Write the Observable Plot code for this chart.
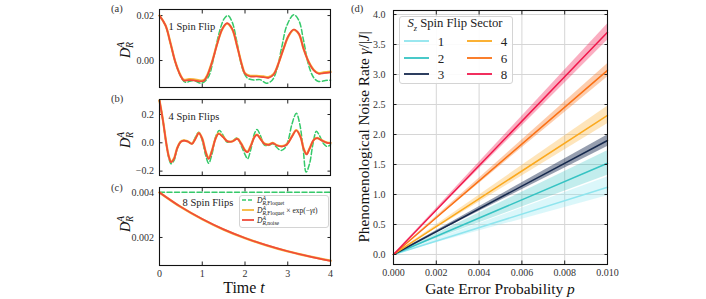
<!DOCTYPE html>
<html><head><meta charset="utf-8">
<script src="https://cdn.jsdelivr.net/npm/d3@7"></script>
<script src="https://cdn.jsdelivr.net/npm/@observablehq/plot@0.6"></script>
<style>
html,body{margin:0;padding:0;background:#fff;}
#root{position:relative;width:706px;height:299px;overflow:hidden;font-family:"Liberation Serif",serif;color:#111;}
#root > svg{position:absolute;overflow:visible;}
.t{position:absolute;white-space:nowrap;line-height:1;}
.c{transform:translate(-50%,-50%);}
.rot{transform:translate(-50%,-50%) rotate(-90deg);}
.ss{display:inline-block;vertical-align:-0.3em;font-size:0.7em;line-height:0.9;font-style:italic;}
.ss>span{display:block;}
.box{position:absolute;background:rgba(255,255,255,0.9);border:1px solid #d4d4d4;border-radius:3px;}
</style></head><body><div id="root"></div>
<script>
// ---------- Panel (a): 1 spin flip ----------
const tA_floq = [0,0.14,0.26,0.37,0.49,0.6,0.8,0.96,1.04,1.16,1.27,1.39,1.51,1.6,1.7,1.82,1.93,2.05,2.2,2.35,2.5,2.63,2.74,2.86,2.98,3.14,3.26,3.37,3.49,3.61,3.72,3.88,4.0];
const dA_floq = [0.02,0.0156,0.0074,-0.0007,-0.0068,-0.0096,-0.0089,-0.0101,-0.0096,-0.0067,0.0015,0.0119,0.0185,0.02,0.0171,0.0074,-0.003,-0.0077,-0.0087,-0.0085,-0.0101,-0.0089,-0.0044,0.006,0.0156,0.0204,0.0178,0.0089,-0.0022,-0.0077,-0.0093,-0.0089,-0.0087];
const tA_noise = [0,0.14,0.26,0.37,0.49,0.57,0.69,0.8,0.96,1.04,1.12,1.23,1.35,1.47,1.58,1.7,1.82,1.93,2.0,2.12,2.27,2.43,2.55,2.67,2.78,2.9,3.02,3.14,3.26,3.37,3.49,3.61,3.72,3.84,4.0];
const dA_noise = [0.02,0.0156,0.0074,-0.0007,-0.0067,-0.0089,-0.0087,-0.0088,-0.0093,-0.009,-0.0067,-0.0007,0.0074,0.0141,0.0166,0.0141,0.006,-0.0022,-0.0059,-0.0071,-0.0071,-0.0074,-0.0077,-0.0062,-0.0015,0.0052,0.0111,0.0138,0.0119,0.0052,-0.0007,-0.0044,-0.0059,-0.0056,-0.0053];
const dA_fit   = [0.02,0.0157,0.0075,-0.0006,-0.0065,-0.0086,-0.0083,-0.0084,-0.0089,-0.0087,-0.0064,-0.0005,0.0075,0.0140,0.0164,0.0140,0.0061,-0.0020,-0.0057,-0.0068,-0.0068,-0.0071,-0.0074,-0.0060,-0.0014,0.0052,0.0110,0.0136,0.0118,0.0052,-0.0006,-0.0042,-0.0056,-0.0053,-0.0050];

// ---------- Panel (b): 4 spin flips ----------
const tB_floq = [0,0.08,0.16,0.22,0.27,0.34,0.41,0.49,0.57,0.66,0.76,0.84,0.92,1.0,1.08,1.15,1.23,1.31,1.4,1.49,1.58,1.7,1.82,1.91,2.01,2.06,2.14,2.22,2.28,2.36,2.45,2.55,2.65,2.75,2.84,2.94,3.02,3.1,3.2,3.28,3.36,3.43,3.51,3.59,3.67,3.74,3.84,3.92,4.0];
const dB_floq = [0.299,0.158,-0.01,-0.11,-0.148,-0.125,-0.048,0.003,0.016,0.009,-0.007,0.040,0.075,0.016,-0.089,-0.144,-0.078,0.040,0.087,0.052,0.005,0.012,0.035,-0.019,-0.089,-0.113,-0.042,0.064,0.094,0.052,-0.014,-0.019,-0.007,-0.035,-0.054,-0.035,0.028,0.134,0.209,0.134,-0.042,-0.207,-0.148,-0.007,0.082,0.052,-0.007,-0.026,-0.014];
const tB_noise = [0,0.08,0.16,0.22,0.27,0.34,0.41,0.49,0.57,0.66,0.76,0.84,0.92,1.0,1.08,1.15,1.23,1.31,1.38,1.49,1.58,1.7,1.82,1.91,2.01,2.06,2.14,2.22,2.28,2.36,2.45,2.55,2.65,2.75,2.87,2.98,3.1,3.2,3.3,3.37,3.44,3.51,3.61,3.69,3.8,3.92,4.0];
const dB_noise = [0.299,0.158,-0.007,-0.101,-0.136,-0.113,-0.042,0.005,0.016,0.009,-0.007,0.028,0.068,0.028,-0.066,-0.113,-0.054,0.028,0.064,0.040,0.012,0.009,0.028,-0.007,-0.059,-0.066,-0.019,0.040,0.056,0.028,-0.007,-0.014,-0.002,-0.019,-0.026,-0.012,0.045,0.087,0.040,-0.042,-0.082,-0.042,0.021,0.033,0.016,0,-0.002];
const dB_fit   = [0.299,0.160,-0.005,-0.098,-0.132,-0.110,-0.040,0.006,0.017,0.010,-0.005,0.030,0.070,0.030,-0.062,-0.108,-0.051,0.030,0.066,0.042,0.013,0.010,0.029,-0.005,-0.055,-0.062,-0.017,0.042,0.058,0.030,-0.005,-0.012,-0.001,-0.017,-0.024,-0.010,0.047,0.090,0.042,-0.040,-0.078,-0.040,0.022,0.034,0.017,0.001,-0.001];

// ---------- Panel (c): 8 spin flips ----------
const tC = [0,0.5,1,1.5,2,2.5,3,3.5,4];
const dC_floq  = [0.00401,0.00401,0.00401,0.00401,0.00401,0.00401,0.00401,0.00401,0.00401];
const dC_fit   = [0.00400,0.00335,0.00281,0.00235,0.00197,0.00165,0.00138,0.00116,0.00097];
const dC_noise = [0.00400,0.00336,0.00282,0.00236,0.00198,0.00166,0.00139,0.00116,0.00096];

// ---------- Panel (d): noise rate vs gate error ----------
const sectors = ["1","2","3","4","6","8"];
const pGrid = [0.0, 0.010];
const rateMid = [[0,1.12],[0,1.52],[0,1.90],[0,2.32],[0,3.07],[0,3.705]];
const rateLo  = [[0,0.98],[0,1.32],[0,1.80],[0,2.18],[0,2.96],[0,3.57]];
const rateHi  = [[0,1.29],[0,1.73],[0,1.99],[0,2.47],[0,3.18],[0,3.84]];
const sectorColors = ["#8fe5ee","#35c3c3","#16294d","#fba91e","#fa7115","#f0184c"];
const bandOpacity  = [0.32,0.30,0.45,0.30,0.35,0.35];

const cFloq = "#35c96a", cFit = "#f6b63a", cNoise = "#f04b3a";

// ---------- helpers ----------
const FONT = "Liberation Serif, serif";
const root = document.getElementById("root");
const zip = (ts, vs) => ts.map((t, i) => ({t, v: vs[i]}));
const baseStyle = {fontFamily: FONT, fontSize: "10px", background: "transparent", color: "#333", overflow: "visible"};
function place(el, left, top) { el.style.left = left + "px"; el.style.top = top + "px"; root.appendChild(el); return el; }
function txt(html, x, y, cls, css) {
  const d = document.createElement("div");
  d.className = "t " + (cls || "");
  d.innerHTML = html;
  if (css) Object.assign(d.style, css);
  return place(d, x, y);
}
function fitWidth(el, target) {
  const fs = parseFloat(el.style.fontSize);
  const w = el.offsetWidth;
  if (w > 0) el.style.fontSize = (fs * target / w).toFixed(2) + "px";
}
const blank = () => "";
function frameAxes(xt, yt, yfmt, xfmt, yPad, xPad) {
  const ts = -3.5;
  const common = {label: null, stroke: "#222", fontFamily: FONT, fill: "#333"};
  return [
    Plot.axisY(yt, {anchor: "left", tickSize: ts, tickPadding: yPad, tickFormat: yfmt, ...common}),
    Plot.axisY(yt, {anchor: "right", tickSize: ts, tickFormat: blank, ...common}),
    Plot.axisX(xt, {anchor: "bottom", tickSize: ts, tickPadding: xPad, tickFormat: xfmt || blank, ...common}),
    Plot.axisX(xt, {anchor: "top", tickSize: ts, tickFormat: blank, ...common})
  ];
}
const curve = "catmull-rom";

// ---------- (a) ----------
const svgA = Plot.plot({
  width: 240, height: 95, marginLeft: 59, marginRight: 10, marginTop: 9, marginBottom: 8,
  style: baseStyle,
  x: {domain: [0, 4]}, y: {domain: [-0.012, 0.0227]},
  marks: [
    ...frameAxes([0,1,2,3,4], [0, 0.02], d3.format(".2f"), null, 9, 8),
    Plot.lineY(zip(tA_floq, dA_floq), {x: "t", y: "v", stroke: cFloq, strokeWidth: 1.5, strokeDasharray: "5,2.5", curve}),
    Plot.lineY(zip(tA_noise, dA_fit), {x: "t", y: "v", stroke: cFit, strokeWidth: 2.3, curve}),
    Plot.lineY(zip(tA_noise, dA_noise), {x: "t", y: "v", stroke: cNoise, strokeWidth: 1.7, curve}),
    Plot.text(["1 Spin Flip"], {frameAnchor: "top-left", dx: 9, dy: 13, textAnchor: "start", fontSize: 10.5, fill: "#222", fontFamily: FONT}),
    Plot.frame({stroke: "#111", strokeWidth: 1.1})
  ]
});
place(svgA, 100, 0);

// ---------- (b) ----------
const svgB = Plot.plot({
  width: 240, height: 95, marginLeft: 59, marginRight: 10, marginTop: 9, marginBottom: 10,
  style: baseStyle,
  x: {domain: [0, 4]}, y: {domain: [-0.231, 0.306]},
  marks: [
    ...frameAxes([0,1,2,3,4], [-0.2, 0, 0.2], d3.format(".1f"), null, 9, 8),
    Plot.lineY(zip(tB_floq, dB_floq), {x: "t", y: "v", stroke: cFloq, strokeWidth: 1.5, strokeDasharray: "5,2.5", curve}),
    Plot.lineY(zip(tB_noise, dB_fit), {x: "t", y: "v", stroke: cFit, strokeWidth: 2.3, curve}),
    Plot.lineY(zip(tB_noise, dB_noise), {x: "t", y: "v", stroke: cNoise, strokeWidth: 1.7, curve}),
    Plot.text(["4 Spin Flips"], {frameAnchor: "top-left", dx: 9, dy: 13, textAnchor: "start", fontSize: 10.5, fill: "#222", fontFamily: FONT}),
    Plot.frame({stroke: "#111", strokeWidth: 1.1})
  ]
});
place(svgB, 100, 90);

// ---------- (c) ----------
const svgC = Plot.plot({
  width: 240, height: 119, marginLeft: 59, marginRight: 10, marginTop: 7, marginBottom: 34,
  style: baseStyle,
  x: {domain: [0, 4]}, y: {domain: [0.000755, 0.00422]},
  marks: [
    ...frameAxes([0,1,2,3,4], [0.002, 0.004], d3.format(".3f"), d3.format("d"), 9, 7.5),
    Plot.lineY(zip(tC, dC_floq), {x: "t", y: "v", stroke: cFloq, strokeWidth: 1.5, strokeDasharray: "5,2.5"}),
    Plot.lineY(zip(tC, dC_fit), {x: "t", y: "v", stroke: cFit, strokeWidth: 2.3, curve}),
    Plot.lineY(zip(tC, dC_noise), {x: "t", y: "v", stroke: cNoise, strokeWidth: 1.7, curve}),
    Plot.text(["8 Spin Flips"], {frameAnchor: "top-left", dx: 23, dy: 11, textAnchor: "start", fontSize: 10.5, fill: "#222", fontFamily: FONT}),
    Plot.frame({stroke: "#111", strokeWidth: 1.1})
  ]
});
place(svgC, 100, 180);

// ---------- (d) ----------
const dMarks = [
  Plot.gridX([0,0.002,0.004,0.006,0.008,0.010], {stroke: "#d6d6d6", strokeOpacity: 1, strokeWidth: 1}),
  Plot.gridY([0,0.5,1,1.5,2,2.5,3,3.5,4], {stroke: "#d6d6d6", strokeOpacity: 1, strokeWidth: 1})
];
sectors.forEach((s, i) => {
  const rows = pGrid.map((p, j) => ({p, lo: rateLo[i][j], hi: rateHi[i][j], mid: rateMid[i][j]}));
  dMarks.push(Plot.areaY(rows, {x: "p", y1: "lo", y2: "hi", fill: sectorColors[i], fillOpacity: bandOpacity[i]}));
  dMarks.push(Plot.lineY(rows, {x: "p", y: "mid", stroke: sectorColors[i], strokeWidth: 1.5}));
});
dMarks.push(...frameAxes([0,0.002,0.004,0.006,0.008,0.010], [0,0.5,1,1.5,2,2.5,3,3.5,4], d3.format(".1f"), d3.format(".3f"), 11.5, 7.5));
dMarks.push(Plot.frame({stroke: "#111", strokeWidth: 1.1}));
const svgD = Plot.plot({
  width: 290, height: 299, marginLeft: 63, marginRight: 13, marginTop: 10, marginBottom: 35,
  style: baseStyle,
  x: {domain: [0, 0.010]}, y: {domain: [-0.167, 4.067]},
  marks: dMarks
});
place(svgD, 330, 0);

// ---------- text overlays ----------
const DAR = '<i>D</i><span class="ss"><span>A</span><span>R</span></span>';
txt(DAR, 126, 50, "rot", {fontSize: "14px"});
txt(DAR, 126, 140, "rot", {fontSize: "14px"});
txt(DAR, 126, 224, "rot", {fontSize: "14px"});
txt("(a)", 111, 4, "", {fontSize: "10.5px", color: "#333"});
txt("(b)", 111, 94, "", {fontSize: "10.5px", color: "#333"});
txt("(c)", 111, 183, "", {fontSize: "10.5px", color: "#333"});
txt("(d)", 351, 4, "", {fontSize: "10.5px", color: "#333"});
fitWidth(txt("Time <i>t</i>", 244, 288, "c", {fontSize: "14px"}), 41);
fitWidth(txt("Gate Error Probability <i>p</i>", 500, 289, "c", {fontSize: "14px"}), 150);
fitWidth(txt("Phenomenological Noise Rate <i>γ</i>/|<i>J</i>|", 364, 137, "rot", {fontSize: "14px"}), 211);

// legend (c)
const boxC = document.createElement("div"); boxC.className = "box";
Object.assign(boxC.style, {width: "88px", height: "31px"});
place(boxC, 239, 195);
const legC = [
  {c: cFloq, dash: "4,2", w: 1.4, h: '<i>D</i><span class="ss" style="font-size:0.75em"><span>A</span><span style="font-style:normal"><i>R</i>,Floquet</span></span>'},
  {c: cFit, dash: null, w: 1.8, h: '<i>D</i><span class="ss" style="font-size:0.75em"><span>A</span><span style="font-style:normal"><i>R</i>,Floquet</span></span> × exp(−<i>γt</i>)'},
  {c: cNoise, dash: null, w: 1.8, h: '<i>D</i><span class="ss" style="font-size:0.75em"><span>A</span><span style="font-style:normal"><i>R</i>,noise</span></span>'}
];
legC.forEach((e, k) => {
  const y = 200 + k * 10;
  const sw = document.createElementNS("http://www.w3.org/2000/svg", "svg");
  sw.setAttribute("width", 13); sw.setAttribute("height", 4);
  sw.innerHTML = `<line x1="0" y1="2" x2="12" y2="2" stroke="${e.c}" stroke-width="${e.w}" ${e.dash ? `stroke-dasharray="${e.dash}"` : ""}/>`;
  sw.style.position = "absolute";
  place(sw, 241.5, y - 2);
  txt(e.h, 257, y - 4, "", {fontSize: "7.5px", color: "#222"});
});

// legend (d)
const boxD = document.createElement("div"); boxD.className = "box";
Object.assign(boxD.style, {width: "112px", height: "66px"});
place(boxD, 399, 16);
fitWidth(txt('<i>S</i><sub style="font-size:0.65em;font-style:italic">z</sub> Spin Flip Sector', 455, 25, "c", {fontSize: "11.5px", color: "#222"}), 95);
sectors.forEach((s, i) => {
  const col = Math.floor(i / 3), row = i % 3;
  const y = 41 + row * 16.5;
  const x0 = col ? 467 : 404;
  const sw = document.createElementNS("http://www.w3.org/2000/svg", "svg");
  sw.setAttribute("width", 26); sw.setAttribute("height", 4);
  sw.innerHTML = `<line x1="0" y1="2" x2="25" y2="2" stroke="${sectorColors[i]}" stroke-width="1.8"/>`;
  sw.style.position = "absolute";
  place(sw, x0, y - 2);
  txt(s, x0 + 37, y, "c", {fontSize: "13px", color: "#222"});
});
</script></body></html>
